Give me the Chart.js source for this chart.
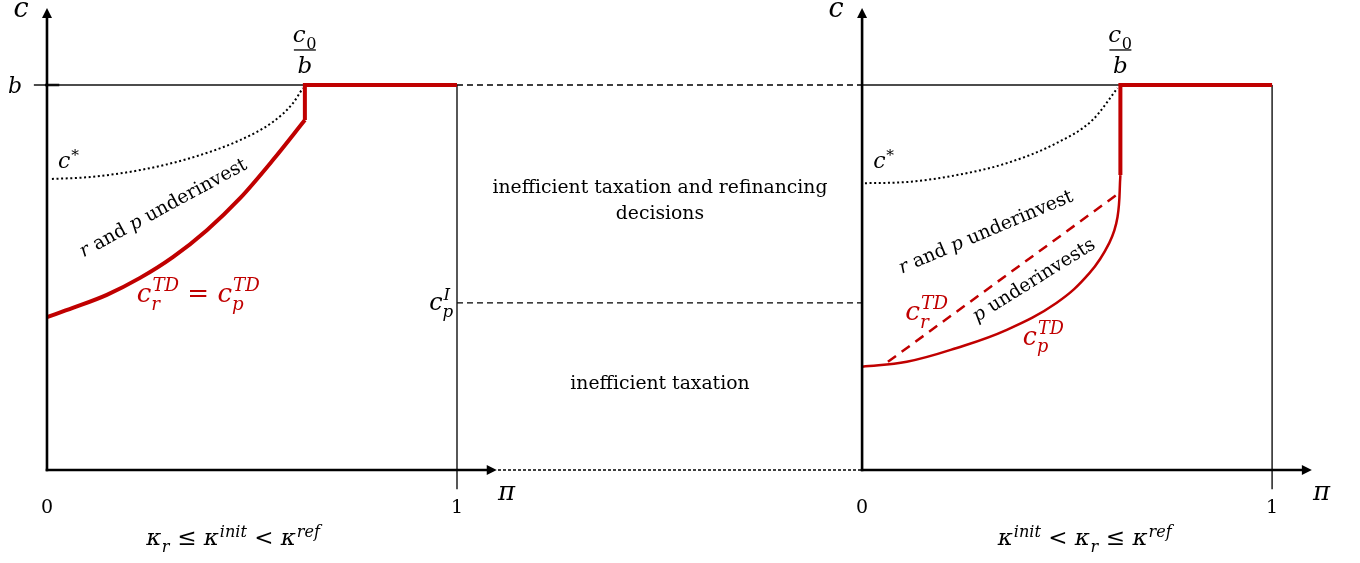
<!DOCTYPE html>
<html><head><meta charset="utf-8">
<style>html,body{margin:0;padding:0;background:#fff;overflow:hidden}canvas{display:block}</style>
<script src="https://cdn.jsdelivr.net/npm/chart.js@4.4.1/dist/chart.umd.min.js"></script>
</head><body>
<canvas id="c" width="1360" height="563"></canvas>
<script>
// ---------- data: pi on each panel (0..1), c normalised so that b = 1 ----------
const panelOffset = [0, 1.988];          // right panel shifted along the shared x scale
const threshold = [0.629, 0.630];        // pi = c0/b in each panel
const bLevel = 1;
const cpILevel = 0.434;
const rightJumpLow = 0.766;              // bottom of the vertical jump, right panel
const leftJumpLow = 0.909;

const leftTdPi = [0.0, 0.063, 0.146, 0.227, 0.307, 0.390, 0.471, 0.551, 0.629];
const leftTdC  = [0.397, 0.421, 0.455, 0.499, 0.553, 0.623, 0.706, 0.805, 0.909];

const leftStarPi = [0.012, 0.105, 0.227, 0.349, 0.471, 0.551, 0.600, 0.624];
const leftStarC  = [0.756, 0.761, 0.779, 0.810, 0.857, 0.904, 0.953, 0.992];

const rightCpPi = [0.0, 0.109, 0.231, 0.353, 0.474, 0.555, 0.603, 0.623, 0.630];
const rightCpC  = [0.268, 0.281, 0.317, 0.364, 0.434, 0.512, 0.590, 0.657, 0.766];

const rightCrPi = [0.063, 0.620];
const rightCrC  = [0.281, 0.714];

const rightStarPi = [0.007, 0.109, 0.231, 0.353, 0.474, 0.562, 0.623];
const rightStarC  = [0.745, 0.748, 0.766, 0.797, 0.849, 0.909, 0.992];

const xTickLabels = ['0', '1'];

// ---------- helpers ----------
const RED = '#C00000';
function pts(pis, cs, panel) { return pis.map((p, i) => ({ x: p + panelOffset[panel], y: cs[i] })); }
function seg(a, b) { return [{ x: a[0], y: a[1] }, { x: b[0], y: b[1] }]; }
function line(data, color, width, extra) {
  return Object.assign({ data, borderColor: color, borderWidth: width, showLine: true, pointRadius: 0,
    fill: false, tension: 0, borderCapStyle: 'butt' }, extra || {});
}

const datasets = [
  // red marks
  line(pts(leftTdPi, leftTdC, 0), RED, 4, { cubicInterpolationMode: 'monotone', order: 1 }),
  line([{ x: threshold[0], y: leftJumpLow }, { x: threshold[0], y: bLevel }, { x: 1, y: bLevel }], RED, 4, { order: 1, borderJoinStyle: 'miter' }),
  line(pts(rightCpPi, rightCpC, 1), RED, 2.5, { tension: 0.4, order: 1 }),
  line([{ x: threshold[1] + panelOffset[1], y: rightJumpLow }, { x: threshold[1] + panelOffset[1], y: bLevel }, { x: 1 + panelOffset[1], y: bLevel }], RED, 4, { order: 1, borderJoinStyle: 'miter' }),
  line(pts(rightCrPi, rightCrC, 1), RED, 2.5, { borderDash: [10, 7], order: 1 }),
  // c*
  line(pts(leftStarPi, leftStarC, 0), '#000', 2, { cubicInterpolationMode: 'monotone', borderDash: [2, 2.6], order: 2 }),
  line(pts(rightStarPi, rightStarC, 1), '#000', 2, { cubicInterpolationMode: 'monotone', borderDash: [2, 2.6], order: 2 }),
  // reference lines
  line(seg([-0.032, bLevel], [1, bLevel]), '#111', 1.4, { order: 3 }),
  line(seg([panelOffset[1], bLevel], [threshold[1] + panelOffset[1], bLevel]), '#111', 1.4, { order: 3 }),
  line(seg([-0.005, bLevel], [0.03, bLevel]), '#000', 2.5, { order: 3 }),
  line(seg([1, bLevel], [1, -0.05]), '#111', 1.4, { order: 3 }),
  line(seg([1 + panelOffset[1], bLevel], [1 + panelOffset[1], -0.05]), '#111', 1.4, { order: 3 }),
  line(seg([1, bLevel], [panelOffset[1], bLevel]), '#000', 1.3, { borderDash: [6, 4], order: 3 }),
  line(seg([1, cpILevel], [panelOffset[1], cpILevel]), '#000', 1.3, { borderDash: [6, 4], order: 3 }),
  line(seg([1.1, 0], [panelOffset[1], 0]), '#000', 1.3, { borderDash: [3, 2], order: 3 })
];

// ---------- text helpers ----------
const MF = '"DejaVu Serif"';
function fnt(size, italic) { return (italic ? 'italic ' : '') + size.toFixed(2) + 'px ' + MF; }
const SS = 0.7;
function layoutMath(ctx, parts, size) {
  let w = 0; const items = [];
  for (const p of parts) {
    ctx.font = fnt(size, !p.up);
    const bw = ctx.measureText(p.t).width;
    const ss = size * SS;
    ctx.font = fnt(ss, !p.supUp);
    const supw = p.sup ? ctx.measureText(p.sup).width : 0;
    ctx.font = fnt(ss, !p.subUp);
    const subw = p.sub ? ctx.measureText(p.sub).width : 0;
    const ext = Math.max(supw, subw);
    items.push({ p, bw, ext, ss });
    w += bw + (ext ? ext + size * 0.04 : 0);
  }
  return { w, items };
}
function drawMath(ctx, parts, x, y, size, align, color, fitW) {
  if (fitW) { size = size * fitW / layoutMath(ctx, parts, size).w; }
  const L = layoutMath(ctx, parts, size);
  let cx = align === 'center' ? x - L.w / 2 : align === 'right' ? x - L.w : x;
  ctx.fillStyle = color; ctx.textAlign = 'left'; ctx.textBaseline = 'alphabetic';
  for (const it of L.items) {
    const p = it.p;
    ctx.font = fnt(size, !p.up);
    ctx.fillText(p.t, cx, y);
    cx += it.bw;
    if (p.sup) { ctx.font = fnt(it.ss, !p.supUp); ctx.fillText(p.sup, cx + size * 0.04, y - size * (p.sub ? 0.42 : 0.36)); }
    if (p.sub) { ctx.font = fnt(it.ss, !p.subUp); ctx.fillText(p.sub, cx + (p.sup ? 0 : size * 0.02), y + size * 0.3); }
    if (it.ext) cx += it.ext + size * 0.04;
  }
  return L.w;
}

const annot = {
  id: 'annot',
  afterDraw(chart) {
    const ctx = chart.ctx, xs = chart.scales.x, ys = chart.scales.y;
    const X = v => xs.getPixelForValue(v), Y = v => ys.getPixelForValue(v);
    ctx.save();
    for (let k = 0; k < 2; k++) {
      const o = panelOffset[k];
      // axes with arrows
      ctx.strokeStyle = '#000'; ctx.fillStyle = '#000'; ctx.lineWidth = 2.6; ctx.setLineDash([]);
      const x0 = X(o), y0 = Y(0), yTop = Y(1.2), xEnd = X(o + 1.097);
      ctx.beginPath(); ctx.moveTo(x0, y0 + 1.3); ctx.lineTo(x0, yTop + 8); ctx.stroke();
      ctx.beginPath(); ctx.moveTo(x0 - 5, yTop + 10); ctx.lineTo(x0, yTop); ctx.lineTo(x0 + 5, yTop + 10); ctx.closePath(); ctx.fill();
      ctx.beginPath(); ctx.moveTo(x0 - 1.3, y0); ctx.lineTo(xEnd - 8, y0); ctx.stroke();
      ctx.beginPath(); ctx.moveTo(xEnd - 10, y0 - 5); ctx.lineTo(xEnd, y0); ctx.lineTo(xEnd - 10, y0 + 5); ctx.closePath(); ctx.fill();

      // axis labels
      drawMath(ctx, [{ t: 'c' }], x0 - 26, Y(1.176), 27, 'center', '#000');
      drawMath(ctx, [{ t: 'π' }], X(o + 1.1), Y(-0.078), 26, 'left', '#000');
      ctx.font = '19px ' + MF; ctx.textAlign = 'center'; ctx.fillStyle = '#000';
      ctx.fillText(xTickLabels[0], X(o), Y(-0.112));
      ctx.fillText(xTickLabels[1], X(o + 1), Y(-0.112));

      // c0 / b
      const xt = X(o + threshold[k]);
      drawMath(ctx, [{ t: 'c', sub: '0', subUp: true }], xt, Y(1.111), 23, 'center', '#000');
      ctx.strokeStyle = '#000'; ctx.lineWidth = 1.3;
      ctx.beginPath(); ctx.moveTo(xt - 11, Y(1.091)); ctx.lineTo(xt + 11, Y(1.091)); ctx.stroke();
      drawMath(ctx, [{ t: 'b' }], xt, Y(1.031), 23, 'center', '#000');
      // c*
      drawMath(ctx, [{ t: 'c', sup: '*', supUp: true }], X(o + 0.027), Y(0.784), 22, 'left', '#000');
    }
    // b label
    drawMath(ctx, [{ t: 'b' }], X(-0.078), Y(0.979), 22, 'center', '#000');
    // c_p^I
    drawMath(ctx, [{ t: 'c', sup: 'I', sub: 'p' }], X(0.993), Y(0.416), 22, 'right', '#000', 25);

    // region texts
    ctx.fillStyle = '#000'; ctx.textAlign = 'center';
    ctx.font = '100px ' + MF;
    const s = 100 * 335 / ctx.measureText('inefficient taxation and refinancing').width;
    ctx.font = s.toFixed(2) + 'px ' + MF;
    ctx.fillText('inefficient taxation and refinancing', X(1.495), Y(0.719));
    ctx.fillText('decisions', X(1.495), Y(0.652));
    ctx.fillText('inefficient taxation', X(1.495), Y(0.210));

    function rot(parts, px, py, deg, size) {
      ctx.save(); ctx.translate(px, py); ctx.rotate(deg * Math.PI / 180);
      drawMath(ctx, parts, 0, 0, size, 'center', '#000');
      ctx.restore();
    }
    const rp = [{ t: 'r' }, { t: ' and ', up: true }, { t: 'p' }, { t: ' underinvest', up: true }];
    rot(rp, X(0.29), Y(0.668), -28.5, s);
    rot(rp, X(panelOffset[1] + 0.307), Y(0.605), -23, s);
    rot([{ t: 'p' }, { t: ' underinvests', up: true }], X(panelOffset[1] + 0.426), Y(0.481), -32, s);

    // red labels
    drawMath(ctx, [{ t: 'c', sub: 'r', sup: 'TD' }, { t: ' = ', up: true }, { t: 'c', sub: 'p', sup: 'TD' }], X(0.219), Y(0.436), 24, 'left', RED, 123);
    drawMath(ctx, [{ t: 'c', sub: 'r', sup: 'TD' }], X(panelOffset[1] + 0.105), Y(0.390), 24, 'left', RED, 43);
    drawMath(ctx, [{ t: 'c', sub: 'p', sup: 'TD' }], X(panelOffset[1] + 0.392), Y(0.325), 24, 'left', RED, 41);

    // panel condition labels
    const le = ' ≤ ', lt = ' < ';
    drawMath(ctx, [{ t: 'κ', sub: 'r' }, { t: le, up: true }, { t: 'κ', sup: 'init' }, { t: lt, up: true }, { t: 'κ', sup: 'ref' }], X(0.454), Y(-0.195), 23, 'center', '#000');
    drawMath(ctx, [{ t: 'κ', sup: 'init' }, { t: lt, up: true }, { t: 'κ', sub: 'r' }, { t: le, up: true }, { t: 'κ', sup: 'ref' }], X(panelOffset[1] + 0.543), Y(-0.195), 23, 'center', '#000');
    ctx.restore();
  }
};

new Chart(document.getElementById('c'), {
  type: 'scatter',
  data: { datasets },
  options: {
    responsive: false, animation: false, devicePixelRatio: 1,
    layout: { padding: 0 },
    plugins: { legend: { display: false }, tooltip: { enabled: false } },
    scales: {
      x: { type: 'linear', min: -0.1146, max: 3.2024, display: false },
      y: { type: 'linear', min: -0.2416, max: 1.2208, display: false }
    }
  },
  plugins: [annot]
});
</script>
</body></html>
